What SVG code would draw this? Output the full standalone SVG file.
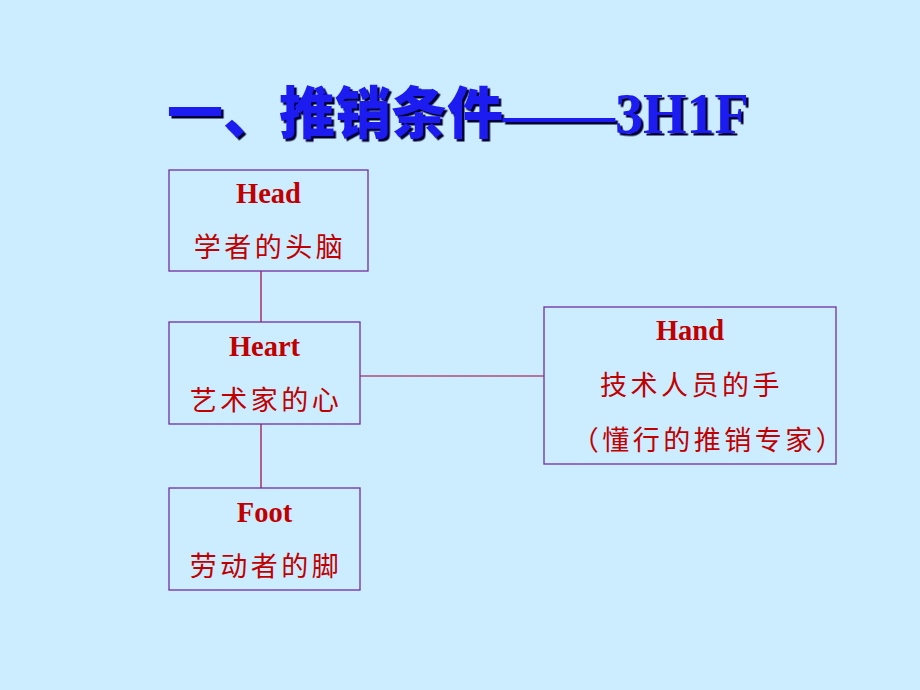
<svg xmlns="http://www.w3.org/2000/svg" width="920" height="690" viewBox="0 0 920 690">
<style>
.box{fill:none;stroke:#7030A0;stroke-width:1.3}
.en{font-family:"Liberation Serif","Noto Sans CJK SC",serif;font-weight:bold;font-size:28.5px;fill:#C00000;text-anchor:middle}
.cn{font-family:"Noto Sans CJK SC","Liberation Serif",serif;font-size:27px;fill:#C00000;text-anchor:middle;letter-spacing:3.5px}
.conn{stroke:#A0003A;stroke-width:1.2;fill:none}
.title{font-family:"Liberation Serif","Noto Sans CJK SC",serif;font-weight:900;font-size:56px;fill:#1A1AF0}
</style>
<defs>
<filter id="shadow" x="-5%" y="-20%" width="110%" height="150%">
<feDropShadow dx="2.5" dy="2.5" stdDeviation="0.6" flood-color="#000033" flood-opacity="1"/>
</filter>
</defs>
<rect width="920" height="690" fill="#CCECFF"/>
<g id="title">
<text class="title" x="167" y="133" filter="url(#shadow)">一、推销条件——3H1F</text>
</g>
<g id="connectors">
<line class="conn" x1="261" y1="271" x2="261" y2="322"/>
<line class="conn" x1="261" y1="424" x2="261" y2="488"/>
<line class="conn" x1="360" y1="376" x2="544" y2="376"/>
</g>
<g id="head">
<rect class="box" x="169" y="170" width="199" height="101"/>
<text class="en" x="268.5" y="203">Head</text>
<text class="cn" x="270" y="257">学者的头脑</text>
</g>
<g id="heart">
<rect class="box" x="169" y="322" width="191" height="102"/>
<text class="en" x="264.5" y="356">Heart</text>
<text class="cn" x="266" y="410">艺术家的心</text>
</g>
<g id="foot">
<rect class="box" x="169" y="488" width="191" height="102"/>
<text class="en" x="264.5" y="522">Foot</text>
<text class="cn" x="266" y="576">劳动者的脚</text>
</g>
<g id="hand">
<rect class="box" x="544" y="307" width="292" height="157"/>
<text class="en" x="690" y="340">Hand</text>
<text class="cn" x="691.5" y="395">技术人员的手</text>
<text class="cn" x="709" y="450">（懂行的推销专家）</text>
</g>
</svg>
